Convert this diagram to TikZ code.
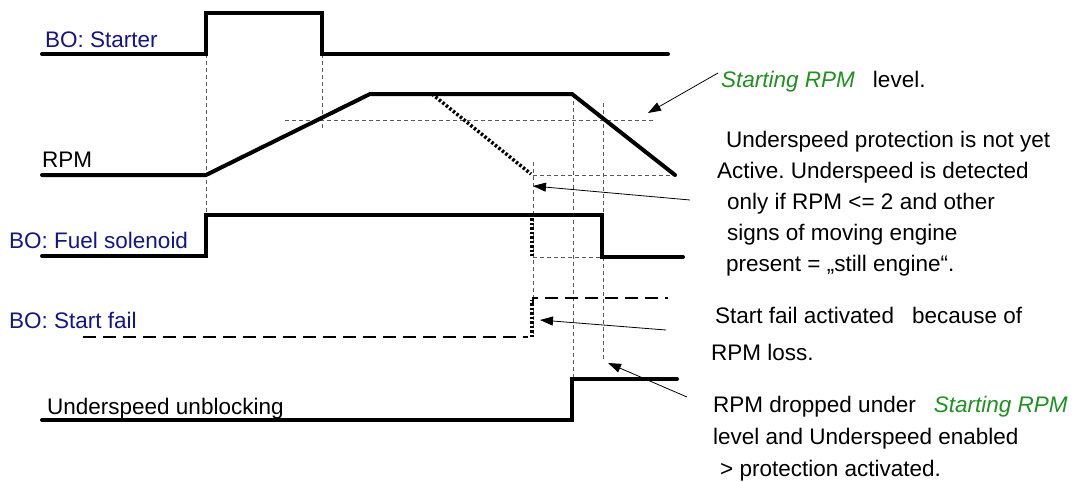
\documentclass[tikz,border=0pt]{standalone}
\usepackage{fontspec}
\setmainfont{Liberation Sans}
\usetikzlibrary{arrows.meta}
\definecolor{birubo}{RGB}{20,20,140}
\definecolor{hijaurpm}{RGB}{30,145,30}
\definecolor{abubantu}{RGB}{90,90,90}
\frenchspacing

\begin{document}
\begin{tikzpicture}[x=1pt, y=-1pt, font=\fontsize{22.5}{31}\selectfont,
    sinyal/.style={line width=4pt, line cap=round},
    titik/.style={line width=3.5pt, dash pattern=on 2.5pt off 2pt},
    putus/.style={line width=1.3pt, dash pattern=on 13pt off 7pt},
    bantu/.style={draw=abubantu, line width=0.8pt, dash pattern=on 4pt off 3pt},
    label/.style={anchor=base west, inner sep=0pt},
    panah/.style={-{Triangle[length=13pt,width=9pt]}, line width=0.8pt}]
                \useasboundingbox (0,0) rectangle (1085,482);
                % garis bantu
                \draw[bantu] (206,54) -- (206,215);
                \draw[bantu] (322,54) -- (322,128);
                \draw[bantu] (285,120) -- (655,120);
                \draw[bantu] (573,94) -- (573,378);
                \draw[bantu] (603,103) -- (603,360);
                \draw[bantu] (533,162) -- (533,337);
                \draw[bantu] (533,175) -- (675,175);
                \draw[bantu] (533,257) -- (602,257);
                % sinyal
                \draw[sinyal] (42,54) -- (206,54) -- (206,13) -- (322,13) -- (322,54) -- (668,54);
                \draw[sinyal] (42,175) -- (206,175) -- (370,94) -- (572,94) -- (675,175);
                \draw[titik] (432,94) -- (531,174);
                \draw[sinyal] (42,256) -- (206,256) -- (206,215) -- (602,215) -- (602,257) -- (683,257);
                \draw[titik] (532,218) -- (532,256);
                \draw[putus] (83,337) -- (528,337);
                \draw[titik] (532,337) -- (532,300);
                \draw[putus] (533,306) -- (533,298) -- (668,298);
                \draw[sinyal] (42,420) -- (572,420) -- (572,379) -- (677,379);
                % nama sinyal
                \node[label, text=birubo] (lblstarter) at (45,47) {BO: Starter};
                \node[label] (lblrpm) at (42,167) {RPM};
                \node[label, text=birubo] (lblfuel) at (9,248) {BO: Fuel solenoid};
                \node[label, text=birubo] (lblfail) at (9,328) {BO: Start fail};
                \node[label] (lblunblock) at (47,414) {Underspeed unblocking};
                % keterangan
                \node[label] (ketstart) at (721,87) {{\color{hijaurpm}\itshape Starting RPM}\hspace{18pt}level.};
                \node[anchor=north west, inner sep=0pt, align=left] (ketunder) at (717,131)
                    {\hspace*{9pt}Underspeed protection is not yet\\
                     Active. Underspeed is detected\\
                     \hspace*{10pt}only if RPM <= 2 and other\\
                     \hspace*{10pt}signs of moving engine\\
                     \hspace*{9pt}present = „still engine“.};
                \node[anchor=north west, inner sep=0pt, align=left] (ketfail) at (711,307)
                    {\hspace*{4pt}Start fail activated\hspace{18pt}because of\\[6pt]
                     RPM loss.};
                \node[anchor=north west, inner sep=0pt, align=left] (ketdrop) at (713,396)
                    {RPM dropped under\hspace{18pt}{\color{hijaurpm}\itshape Starting RPM}\\[1pt]
                     level and Underspeed enabled\\[1pt]
                     \hspace*{7pt}> protection activated.};
                % panah
                \coordinate (ekor1) at (718,73);
                \coordinate (ujung1) at (648,113);
                \coordinate (ekor2) at (690,200);
                \coordinate (ujung2) at (533,186);
                \coordinate (ekor3) at (666,330);
                \coordinate (ujung3) at (540,320);
                \coordinate (ekor4) at (687,397);
                \coordinate (ujung4) at (608,363);
                \draw[panah] (ekor1) -- (ujung1);
                \draw[panah] (ekor2) -- (ujung2);
                \draw[panah] (ekor3) -- (ujung3);
                \draw[panah] (ekor4) -- (ujung4);
            \end{tikzpicture}
\end{document}
